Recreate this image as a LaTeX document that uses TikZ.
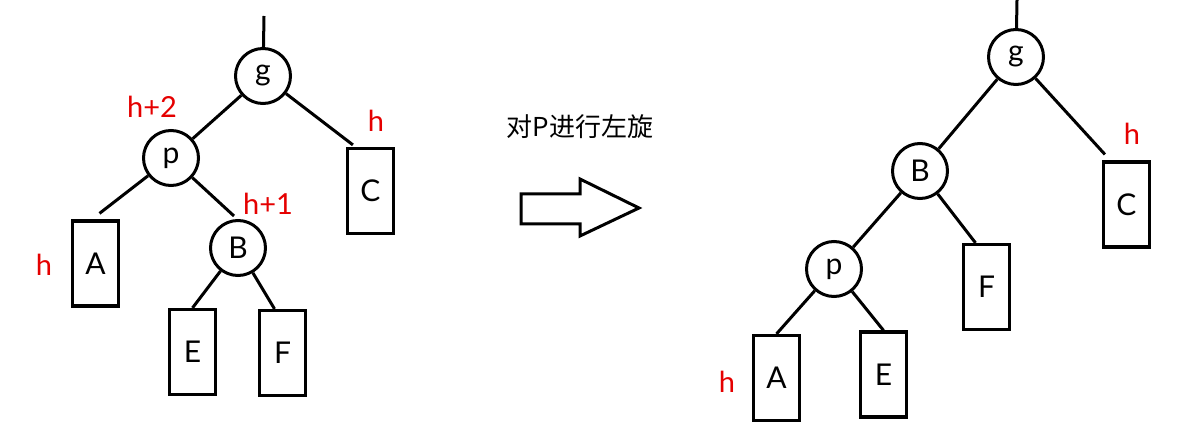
\documentclass[tikz,border=0pt]{standalone}
\usepackage{fontspec}
\setmainfont{Lato}
\newfontfamily\cjk{Noto Sans CJK SC}
\usepackage{tikz}
\usetikzlibrary{positioning}

\begin{document}
\begin{tikzpicture}[x=1pt, y=-1pt]
			\tikzstyle{Vertex}	= [circle, draw, line width=3pt, minimum size=55pt, inner sep=0pt, font=\fontsize{30}{32}\selectfont]
			\tikzstyle{Sub}		= [rectangle, draw, line width=3.2pt, minimum width=46pt, minimum height=85pt, inner sep=0pt, font=\fontsize{30}{32}\selectfont]
			\tikzstyle{Height}	= [text=red!90!black, font=\fontsize{29}{31}\selectfont]
			\tikzstyle{Edge}	= [line width=3pt, black]
			\tikzstyle{Turn}	= [line width=3pt, black, line join=miter]

			\useasboundingbox (0,0) rectangle (1198,446);

			% before the rotation
			\coordinate (r1) at (264,16);
			\node (g1) at (263,76) [Vertex] {g};
			\node (p1) at (171,158) [Vertex] {p};
			\node (b1) at (238,248) [Vertex] {B};
			\node (a1) at (95.5,263.5) [Sub] {A};
			\node (c1) at (370.5,191) [Sub] {C};
			\node (e1) at (192.5,352) [Sub] {E};
			\node (f1) at (282.5,353) [Sub] {F};

			\node (hp1) at (152,107) [Height] {h+2};
			\node (hc1) at (376,121) [Height] {h};
			\node (hb1) at (268,204) [Height] {h+1};
			\node (ha1) at (44,265) [Height] {h};

			\draw [-] (r1) to (g1) [Edge];
			\draw [-] (g1) to (p1) [Edge];
			\draw [-] (g1) to ([xshift=7pt,yshift=2pt]c1.north west) [Edge];
			\draw [-] (p1) to ([xshift=4pt,yshift=6pt]a1.north) [Edge];
			\draw [-] (p1) to ([xshift=-4pt,yshift=3pt]b1.north) [Edge];
			\draw [-] (b1) to (e1.north) [Edge];
			\draw [-] (b1) to ([xshift=-8pt]f1.north) [Edge];

			% the arrow and its text
			\node (turn) at (580,127) {\cjk\fontsize{26}{28}\selectfont 对P进行左旋};
			\draw [Turn] (521,194) -- (580,194) -- (580,179) -- (639,208) -- (580,236) -- (580,224) -- (521,224) -- cycle;

			% after the rotation
			\coordinate (r2) at (1017,0);
			\node (g2) at (1016,57) [Vertex] {g};
			\node (b2) at (920,171) [Vertex] {B};
			\node (p2) at (834,269) [Vertex] {p};
			\node (c2) at (1126.5,204.5) [Sub] {C};
			\node (f2) at (986.5,287) [Sub] {F};
			\node (a2) at (776.5,378) [Sub] {A};
			\node (e2) at (883.5,374.5) [Sub] {E};

			\node (hc2) at (1132,134) [Height] {h};
			\node (ha2) at (727,382) [Height] {h};

			\draw [-] (r2) to (g2) [Edge];
			\draw [-] (g2) to (b2) [Edge];
			\draw [-] (g2) to ([xshift=3pt,yshift=6pt]c2.north west) [Edge];
			\draw [-] (b2) to (p2) [Edge];
			\draw [-] (b2) to ([xshift=-11pt]f2.north) [Edge];
			\draw [-] (p2) to (a2.north) [Edge];
			\draw [-] (p2) to (e2.north) [Edge];
		\end{tikzpicture}
\end{document}
